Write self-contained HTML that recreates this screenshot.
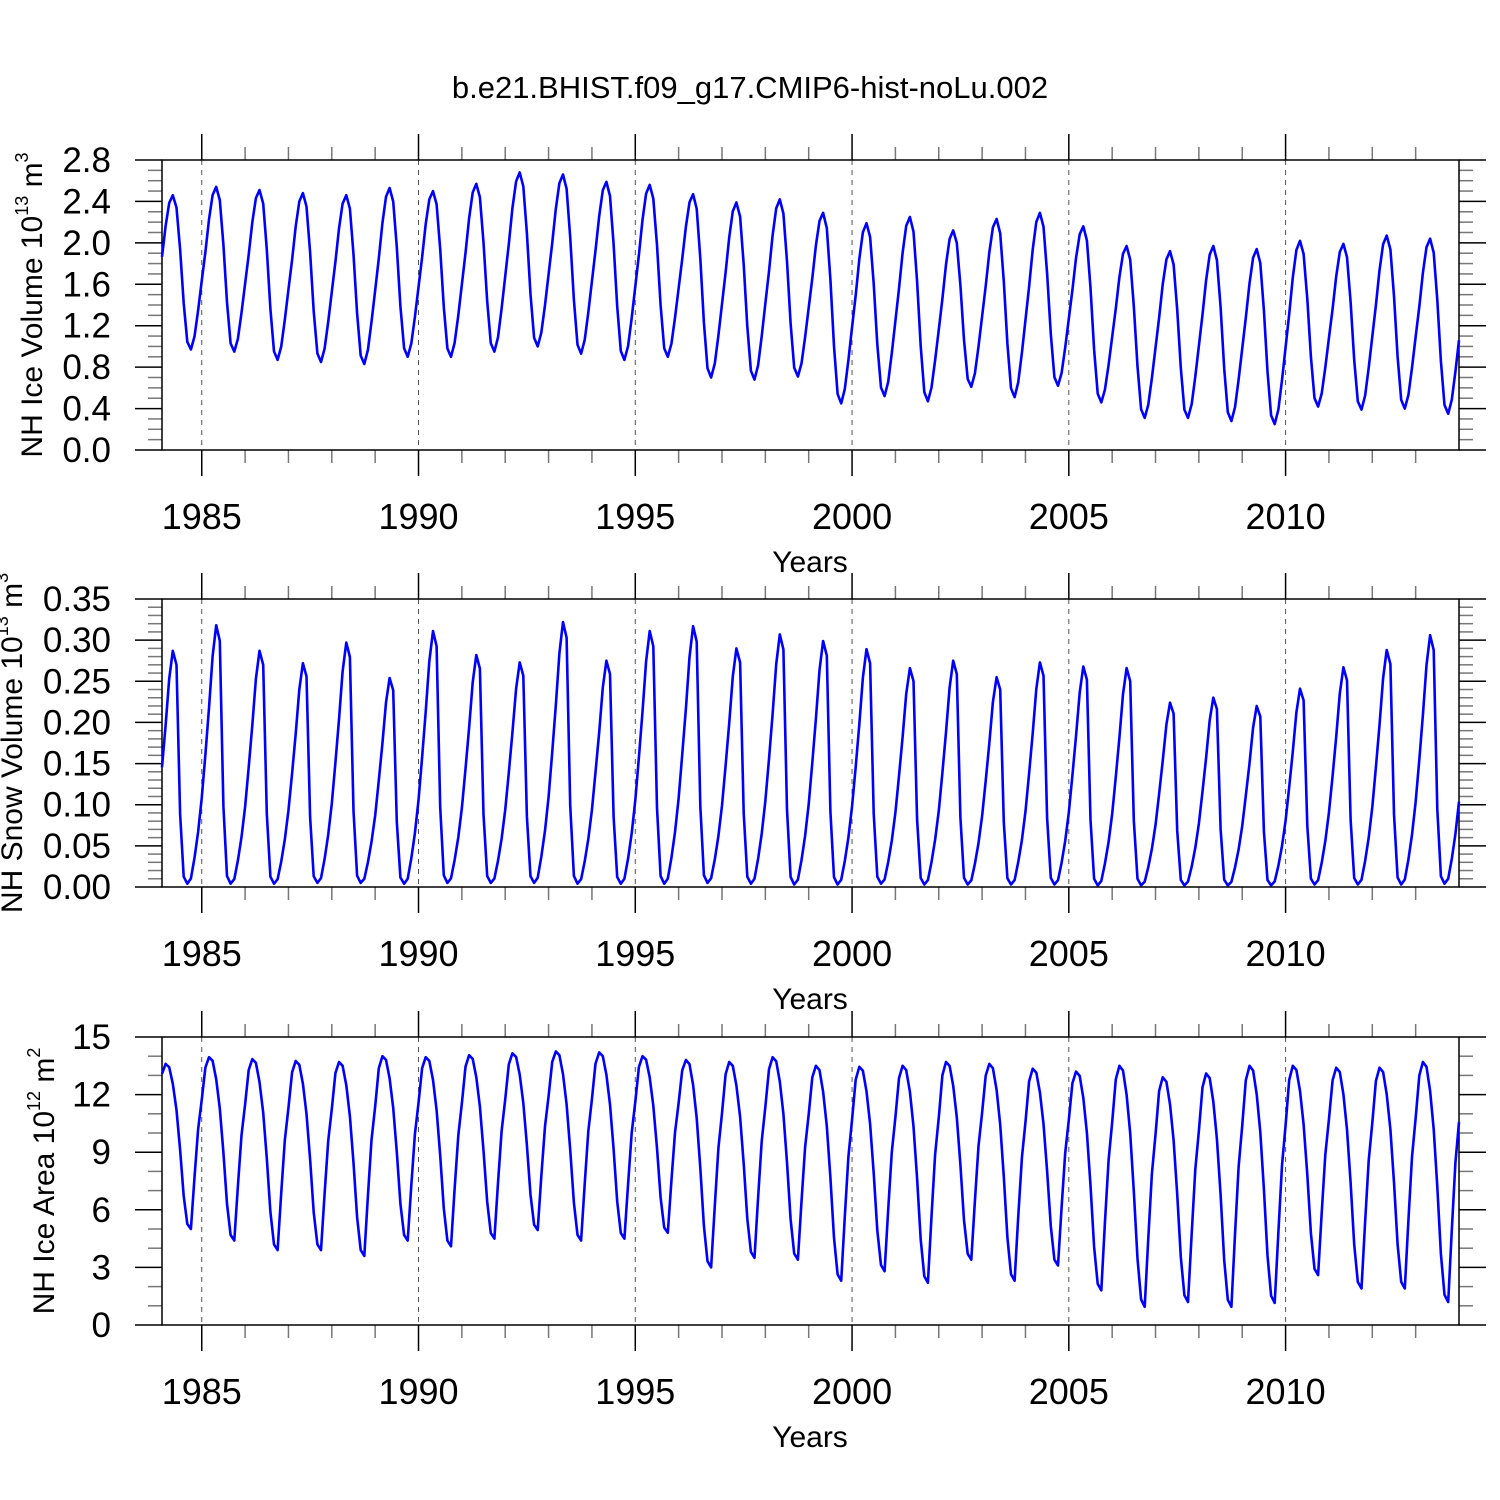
<!DOCTYPE html>
<html><head><meta charset="utf-8"><style>
html,body{margin:0;padding:0;background:#fff;}
svg{display:block;font-family:"Liberation Sans",sans-serif;}
</style></head><body>
<svg id="chart" width="1500" height="1500" viewBox="0 0 1500 1500" xmlns="http://www.w3.org/2000/svg">
<rect width="1500" height="1500" fill="#fff"/>
<text x="750" y="98" font-size="31" text-anchor="middle">b.e21.BHIST.f09_g17.CMIP6-hist-noLu.002</text>
</svg>
<script>
// Years of data
const years = [1984,1985,1986,1987,1988,1989,1990,1991,1992,1993,1994,1995,1996,1997,1998,1999,2000,2001,2002,2003,2004,2005,2006,2007,2008,2009,2010,2011,2012,2013];
const xTickLabels = [1985,1990,1995,2000,2005,2010];
// Ice volume (10^13 m3)
const volMax = [2.46,2.54,2.51,2.48,2.46,2.53,2.50,2.57,2.68,2.66,2.59,2.56,2.47,2.39,2.42,2.29,2.19,2.25,2.12,2.23,2.29,2.16,1.97,1.92,1.97,1.94,2.02,1.99,2.07,2.04];
const volMin = [0.97,0.95,0.87,0.85,0.83,0.90,0.90,0.95,1.00,0.93,0.87,0.90,0.70,0.68,0.71,0.45,0.52,0.47,0.61,0.51,0.62,0.46,0.31,0.31,0.28,0.25,0.42,0.39,0.40,0.35];
const volSeason = [0.6,0.8,0.95,1.0,0.92,0.65,0.3,0.05,0.0,0.08,0.24,0.42];
const volTicks = [0.0,0.4,0.8,1.2,1.6,2.0,2.4,2.8];
// Snow volume (10^13 m3)
const snowMax = [0.287,0.318,0.287,0.272,0.297,0.254,0.311,0.282,0.273,0.322,0.275,0.311,0.317,0.290,0.307,0.299,0.289,0.266,0.275,0.255,0.273,0.268,0.266,0.224,0.230,0.220,0.241,0.267,0.288,0.306];
const snowMin = [0.004,0.004,0.004,0.005,0.005,0.004,0.005,0.005,0.005,0.004,0.004,0.004,0.005,0.004,0.003,0.003,0.004,0.003,0.003,0.003,0.003,0.002,0.002,0.002,0.002,0.002,0.003,0.003,0.003,0.004];
const snowSeason = [0.5,0.68,0.88,1.0,0.94,0.3,0.03,0.0,0.02,0.1,0.2,0.33];
const snowTicks = [0.00,0.05,0.10,0.15,0.20,0.25,0.30,0.35];
// Ice area (10^12 m2)
const areaMax = [13.6,13.95,13.85,13.75,13.7,14.0,13.95,14.05,14.15,14.25,14.2,14.0,13.8,13.7,13.95,13.5,13.45,13.5,13.7,13.6,13.35,13.2,13.5,12.9,13.1,13.5,13.5,13.4,13.4,13.7];
const areaMin = [5.0,4.4,3.9,3.9,3.6,4.4,4.1,4.5,4.95,4.4,4.5,4.8,3.0,3.5,3.4,2.3,2.8,2.2,3.4,2.3,3.1,1.8,0.95,1.2,0.95,1.15,2.6,1.9,1.9,1.2];
const areaSeason = [0.94,1.0,0.98,0.88,0.72,0.48,0.2,0.03,0.0,0.3,0.58,0.75];
const areaTicks = [0,3,6,9,12,15];

const NS="http://www.w3.org/2000/svg";
const svg=document.getElementById('chart');
function el(tag,attrs,parent){const e=document.createElementNS(NS,tag);for(const k in attrs)e.setAttribute(k,attrs[k]);(parent||svg).appendChild(e);return e;}
const X0=162,X1=1459,T0=1984.0833,T1=2014.0;
function xs(t){return X0+(t-T0)/(T1-T0)*(X1-X0);}

function panel(name,top,bottom,ymax,ticks,minorStep,maxA,minA,season,labelFmt,titleMain,titleSup,titleUnit,titleUnitSup,titleX){
  const g=el('g',{});
  
  
  const ys=v=>bottom-(v/ymax)*(bottom-top);
  xTickLabels.forEach(yr=>{
    const l=el('line',{x1:xs(yr),x2:xs(yr),y1:top,y2:bottom,stroke:'#555','stroke-width':1,'stroke-dasharray':'5,5'},g);
    
    
  });
  for(let yr=1985;yr<=2013;yr++){
    const major=yr%5===0;const len=major?26:13;
    el('line',{x1:xs(yr),x2:xs(yr),y1:bottom,y2:bottom+len,stroke:major?'#000':'#777','stroke-width':1.5},g);
    el('line',{x1:xs(yr),x2:xs(yr),y1:top,y2:top-len,stroke:major?'#000':'#777','stroke-width':1.5},g);
  }
  xTickLabels.forEach(yr=>{
    const t=el('text',{x:xs(yr),y:bottom+79,'font-size':36,'text-anchor':'middle'},g);
    
    
    t.textContent=yr;
  });
  const xt=el('text',{x:810,y:bottom+122,'font-size':30,'text-anchor':'middle'},g);
  
  
  xt.textContent='Years';
  const nMinor=Math.round(ymax/minorStep);
  const majorStep=ticks[1]-ticks[0];
  for(let i=0;i<=nMinor;i++){
    const v=i*minorStep;const y=ys(v);
    const major=Math.abs(v/majorStep-Math.round(v/majorStep))<1e-6;
    const len=major?27:14;
    el('line',{x1:X0-len,x2:X0,y1:y,y2:y,stroke:major?'#000':'#777','stroke-width':1.5},g);
    el('line',{x1:X1,x2:X1+len,y1:y,y2:y,stroke:major?'#000':'#777','stroke-width':1.5},g);
  }
  ticks.forEach(v=>{
    const t=el('text',{x:111,y:ys(v)+12,'font-size':35,'text-anchor':'end'},g);
    
    
    t.textContent=labelFmt(v);
  });
  const cy=(top+bottom)/2;
  const yt=el('text',{x:0,y:0,'font-size':30,'text-anchor':'middle',transform:`translate(${titleX},${cy}) rotate(-90)`},g);
  
  
  yt.innerHTML=`${titleMain}<tspan font-size="18" dy="-14">${titleSup}</tspan><tspan dy="14"> ${titleUnit}</tspan><tspan font-size="18" dy="-14">${titleUnitSup}</tspan>`;
  const fr=el('rect',{x:X0,y:top,width:X1-X0,height:bottom-top,fill:'none',stroke:'#000','stroke-width':1.5},g);
  
  
  const pk=season.indexOf(Math.max(...season));
  const tr=season.indexOf(Math.min(...season));
  let pts=[];
  const n=years.length;
  years.forEach((yr,i)=>{
    season.forEach((s,m)=>{
      let lo,hi;
      if(m<=pk){lo=minA[Math.max(i-1,0)];hi=maxA[i];}
      else if(m<=tr){lo=minA[i];hi=maxA[i];}
      else{lo=minA[i];hi=maxA[Math.min(i+1,n-1)];}
      const v=lo+s*(hi-lo);
      pts.push(xs(yr+(m+1)/12).toFixed(1)+','+ys(v).toFixed(1));
    });
  });
  const p=el('polyline',{points:pts.join(' '),fill:'none',stroke:'#0000ff','stroke-width':2.6,'stroke-linejoin':'round'},g);
  
  
}
panel('ice-volume',160,450,2.8,volTicks,0.1,volMax,volMin,volSeason,v=>v.toFixed(1),'NH Ice Volume 10','13','m','3',42);
panel('snow-volume',599,887,0.35,snowTicks,0.01,snowMax,snowMin,snowSeason,v=>v.toFixed(2),'NH Snow Volume 10','13','m','3',22);
panel('ice-area',1037,1325,15,areaTicks,1,areaMax,areaMin,areaSeason,v=>String(v),'NH Ice Area 10','12','m','2',54);
</script>
</body></html>
